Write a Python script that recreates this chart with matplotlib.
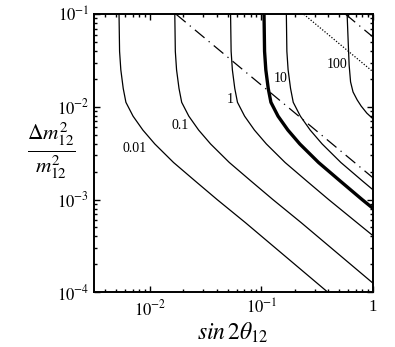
import numpy as np
import matplotlib
matplotlib.use('Agg')
import matplotlib.pyplot as plt
from matplotlib.ticker import LogLocator, NullFormatter

plt.rcParams['font.family'] = ['Liberation Serif', 'DejaVu Serif']
plt.rcParams['mathtext.fontset'] = 'stix'

# contour lines (x = sin 2theta, y = dm^2/m^2)
c001_x = [0.00530, 0.00536, 0.00550, 0.00578, 0.00611, 0.00708, 0.00867, 0.01109, 0.01633, 0.0256, 0.0401, 0.0721, 0.394]
c001_y = [0.1, 0.0398, 0.0251, 0.0158, 0.0112, 0.00794, 0.00562, 0.00398, 0.00251, 0.00158, 0.001, 0.000562, 0.0001]

c01_x = [0.01676, 0.01694, 0.01738, 0.01828, 0.01932, 0.02238, 0.02741, 0.03507, 0.05164, 0.08092, 0.1268, 0.2280, 1.0]
c01_y = [0.1, 0.0398, 0.0251, 0.0158, 0.0112, 0.00794, 0.00562, 0.00398, 0.00251, 0.00158, 0.001, 0.000562, 0.0001253]

c1_x = [0.0530, 0.0536, 0.0550, 0.0578, 0.0611, 0.0708, 0.0867, 0.1109, 0.1633, 0.2559, 0.4009, 0.7211, 1.0]
c1_y = [0.1, 0.0398, 0.0251, 0.0158, 0.0112, 0.00794, 0.00562, 0.00398, 0.00251, 0.00158, 0.001, 0.000562, 0.000408]

c10_x = [0.1676, 0.1694, 0.1738, 0.1828, 0.1932, 0.2238, 0.2741, 0.3507, 0.5164, 0.8092, 1.0]
c10_y = [0.1, 0.0398, 0.0251, 0.0158, 0.0112, 0.00794, 0.00562, 0.00398, 0.00251, 0.00158, 0.001276]

c100_x = [0.5875, 0.5998, 0.6124, 0.6310, 0.6637, 0.7228, 0.7852, 0.8831, 1.0]
c100_y = [0.1, 0.0528, 0.0284, 0.0186, 0.0145, 0.0119, 0.0102, 0.00855, 0.00745]

thick_x = [0.1057, 0.1069, 0.1097, 0.1153, 0.1219, 0.1412, 0.1730, 0.2212, 0.3258, 0.5107, 0.8000, 1.0]
thick_y = [0.1, 0.0398, 0.0251, 0.0158, 0.0112, 0.00794, 0.00562, 0.00398, 0.00251, 0.00158, 0.001, 0.000804]

dd1_x = [0.0172, 1.0]
dd1_y = [0.1, 0.00172]
dd2_x = [0.569, 1.0]
dd2_y = [0.1, 0.0569]
dot_x = [0.24, 1.0]
dot_y = [0.1, 0.024]

levels = ['0.01', '0.1', '1', '10', '100']
lab_x = [0.00735, 0.0186, 0.0525, 0.1496, 0.475]
lab_y = [0.00358, 0.00628, 0.0119, 0.0204, 0.0284]

fig = plt.figure(figsize=(3.95, 3.47), dpi=100)
ax = fig.add_axes([0.238, 0.158, 0.706, 0.801])

for xs, ys in [(c001_x, c001_y), (c01_x, c01_y), (c1_x, c1_y), (c10_x, c10_y), (c100_x, c100_y)]:
    ax.plot(xs, ys, color='black', lw=0.9)
ax.plot(thick_x, thick_y, color='black', lw=2.4, solid_capstyle='butt', solid_joinstyle='round')
ax.plot(dd1_x, dd1_y, color='black', lw=0.9, linestyle=(0, (10, 4.3, 1, 4.3)))
ax.plot(dd2_x, dd2_y, color='black', lw=0.9, linestyle=(0, (10, 4.3, 1, 4.3)))
ax.plot(dot_x, dot_y, color='black', lw=0.9, linestyle=(0, (1, 1.4)))

for t, lx, ly in zip(levels, lab_x, lab_y):
    ax.text(lx, ly, t, fontsize=10, ha='center', va='center')

ax.set_xscale('log')
ax.set_yscale('log')
ax.set_xlim(10**-2.5, 1)
ax.set_ylim(1e-4, 1e-1)

ax.set_xticks([1e-2, 1e-1, 1])
ax.set_xticklabels([r'$10^{-2}$', r'$10^{-1}$', '1'])
ax.set_yticks([1e-4, 1e-3, 1e-2, 1e-1])
ax.set_yticklabels([r'$10^{-4}$', r'$10^{-3}$', r'$10^{-2}$', r'$10^{-1}$'])
ax.xaxis.set_minor_locator(LogLocator(base=10, subs=np.arange(2, 10)))
ax.yaxis.set_minor_locator(LogLocator(base=10, subs=np.arange(2, 10)))
ax.xaxis.set_minor_formatter(NullFormatter())
ax.yaxis.set_minor_formatter(NullFormatter())
ax.tick_params(which='both', direction='in', top=True, right=True, width=1.0, labelsize=12)
ax.tick_params(which='major', length=4)
ax.tick_params(which='minor', length=2.5)
ax.tick_params(axis='x', pad=5)
for s in ax.spines.values():
    s.set_linewidth(1.4)

fig.text(0.59, 0.04, r'$sin\,2\theta_{12}$', fontsize=17, ha='center', va='center')
fig.text(0.13, 0.567, r'$\frac{\mathit{\Delta} m^2_{12}}{m^2_{12}}$', fontsize=22, ha='center', va='center')

fig.savefig('out.png', dpi=100)
